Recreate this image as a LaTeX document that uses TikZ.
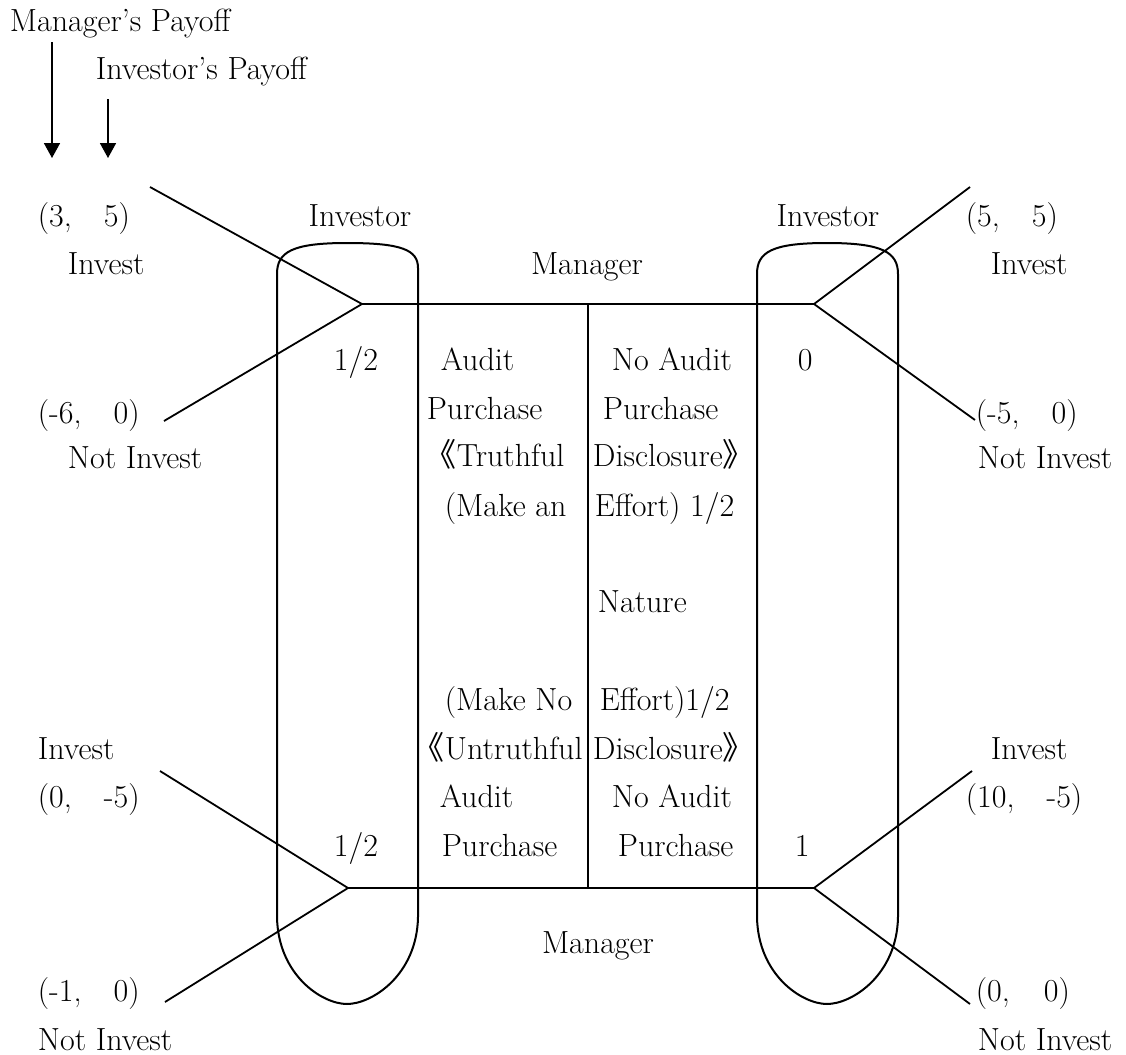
\documentclass[tikz,border=0pt]{standalone}
\usepackage{fontspec}
\newfontfamily\cjk{Noto Sans CJK JP}
\usetikzlibrary{arrows.meta}

\begin{document}
\begin{tikzpicture}[
    x=0.5pt,
    y=-0.5pt,
    font=\fontsize{16}{19}\selectfont,
    line width=0.9pt,
    lbl/.style={
        anchor=base west,
        inner sep=0pt
    },
    clbl/.style={
        anchor=base,
        inner sep=0pt
    },
    arrow/.style={-{Triangle[width=8pt,length=7.5pt]}, line width=0.9pt},
    infoset/.style={line width=1pt}
]

\useasboundingbox (0,0) rectangle (1126,1055);

% Payoff legend
\node[lbl] (mpay) at (9,31) {Manager's Payoff};
\node[lbl] (ipay) at (95,79) {Investor's Payoff};

\coordinate (ma1) at (52,42);
\coordinate (ma2) at (52,158);
\coordinate (ia1) at (108,99);
\coordinate (ia2) at (108,158);

\draw[arrow] (ma1) -- (ma2);
\draw[arrow] (ia1) -- (ia2);

% Decision nodes
\coordinate (audT) at (362,304);
\coordinate (noaT) at (814,304);
\coordinate (audU) at (348,888);
\coordinate (noaU) at (814,888);
\coordinate (natT) at (588,304);
\coordinate (natU) at (588,888);

% Ends of the investor's moves
\coordinate (p1) at (150,187);
\coordinate (p2) at (164,421);
\coordinate (p3) at (970,187);
\coordinate (p4) at (975,420);
\coordinate (p5) at (160,771);
\coordinate (p6) at (165,1002);
\coordinate (p7) at (972,771);
\coordinate (p8) at (970,1004);

% Tree
\draw (p1) -- (audT) -- (p2);
\draw (audT) -- (noaT);
\draw (p3) -- (noaT) -- (p4);
\draw (natT) -- (natU);
\draw (audU) -- (noaU);
\draw (p5) -- (audU) -- (p6);
\draw (p7) -- (noaU) -- (p8);

% Information sets
\draw[infoset] (277,917) -- (277,274)
    .. controls (277,252) and (292,243) .. (347,243)
    .. controls (402,243) and (418,250) .. (418,268) -- (418,917)
    .. controls (417,975) and (372,1004) .. (347,1004)
    .. controls (322,1004) and (278,975) .. cycle;
\draw[infoset] (757,917) -- (757,274)
    .. controls (757,252) and (772,243) .. (827,243)
    .. controls (882,243) and (898,252) .. (898,274) -- (898,917)
    .. controls (897,975) and (852,1004) .. (827,1004)
    .. controls (802,1004) and (758,975) .. cycle;

% Players
\node[clbl] (invL) at (360,226) {Investor};
\node[clbl] (invR) at (828,226) {Investor};
\node[clbl] (manT) at (587,274) {Manager};
\node[clbl] (manB) at (598,953) {Manager};
\node[lbl] (nat) at (597,612) {Nature};

% Payoffs, left side
\node[lbl] (pay35) at (37,226) {(3,\quad 5)};
\node[lbl] (inv1) at (67,274) {Invest};
\node[lbl] (pay60) at (37,423) {(-6,\quad 0)};
\node[lbl] (ninv1) at (67,468) {Not Invest};
\node[lbl] (inv3) at (37,759) {Invest};
\node[lbl] (pay05) at (37,807) {(0,\quad -5)};
\node[lbl] (pay10) at (37,1001) {(-1,\quad 0)};
\node[lbl] (ninv3) at (37,1050) {Not Invest};

% Payoffs, right side
\node[lbl] (pay55) at (965,226) {(5,\quad 5)};
\node[lbl] (inv2) at (990,274) {Invest};
\node[lbl] (pay50) at (975,423) {(-5,\quad 0)};
\node[lbl] (ninv2) at (977,468) {Not Invest};
\node[lbl] (inv4) at (990,759) {Invest};
\node[lbl] (pay105) at (965,807) {(10,\quad -5)};
\node[lbl] (pay00) at (975,1001) {(0,\hspace{17pt}0)};
\node[lbl] (ninv4) at (977,1050) {Not Invest};

% Probabilities
\node[lbl] (prTL) at (333,370) {1/2};
\node[lbl] (prTR) at (797,370) {0};
\node[lbl] (prBL) at (333,856) {1/2};
\node[lbl] (prBR) at (794,856) {1};

% Manager's moves, truthful branch
\node[lbl] (audA) at (440,370) {Audit};
\node[lbl] (audB) at (426,419) {Purchase};
\node[lbl] (truA) at (424,466) {{\cjk 《}Truthful};
\node[lbl] (effA) at (444,516) {(Make an};
\node[lbl] (noaA) at (611,370) {No Audit};
\node[lbl] (noaB) at (602,419) {Purchase};
\node[lbl] (truB) at (592,466) {Disclosure{\cjk 》}};
\node[lbl] (effB) at (594,516) {Effort) 1/2};

% Manager's moves, untruthful branch
\node[lbl] (effC) at (444,710) {(Make No};
\node[lbl] (untA) at (412,759) {{\cjk 《}Untruthful};
\node[lbl] (audC) at (439,807) {Audit};
\node[lbl] (audD) at (441,856) {Purchase};
\node[lbl] (effD) at (599,710) {Effort)1/2};
\node[lbl] (untB) at (592,759) {Disclosure{\cjk 》}};
\node[lbl] (noaC) at (611,807) {No Audit};
\node[lbl] (noaD) at (617,856) {Purchase};

\end{tikzpicture}
\end{document}
